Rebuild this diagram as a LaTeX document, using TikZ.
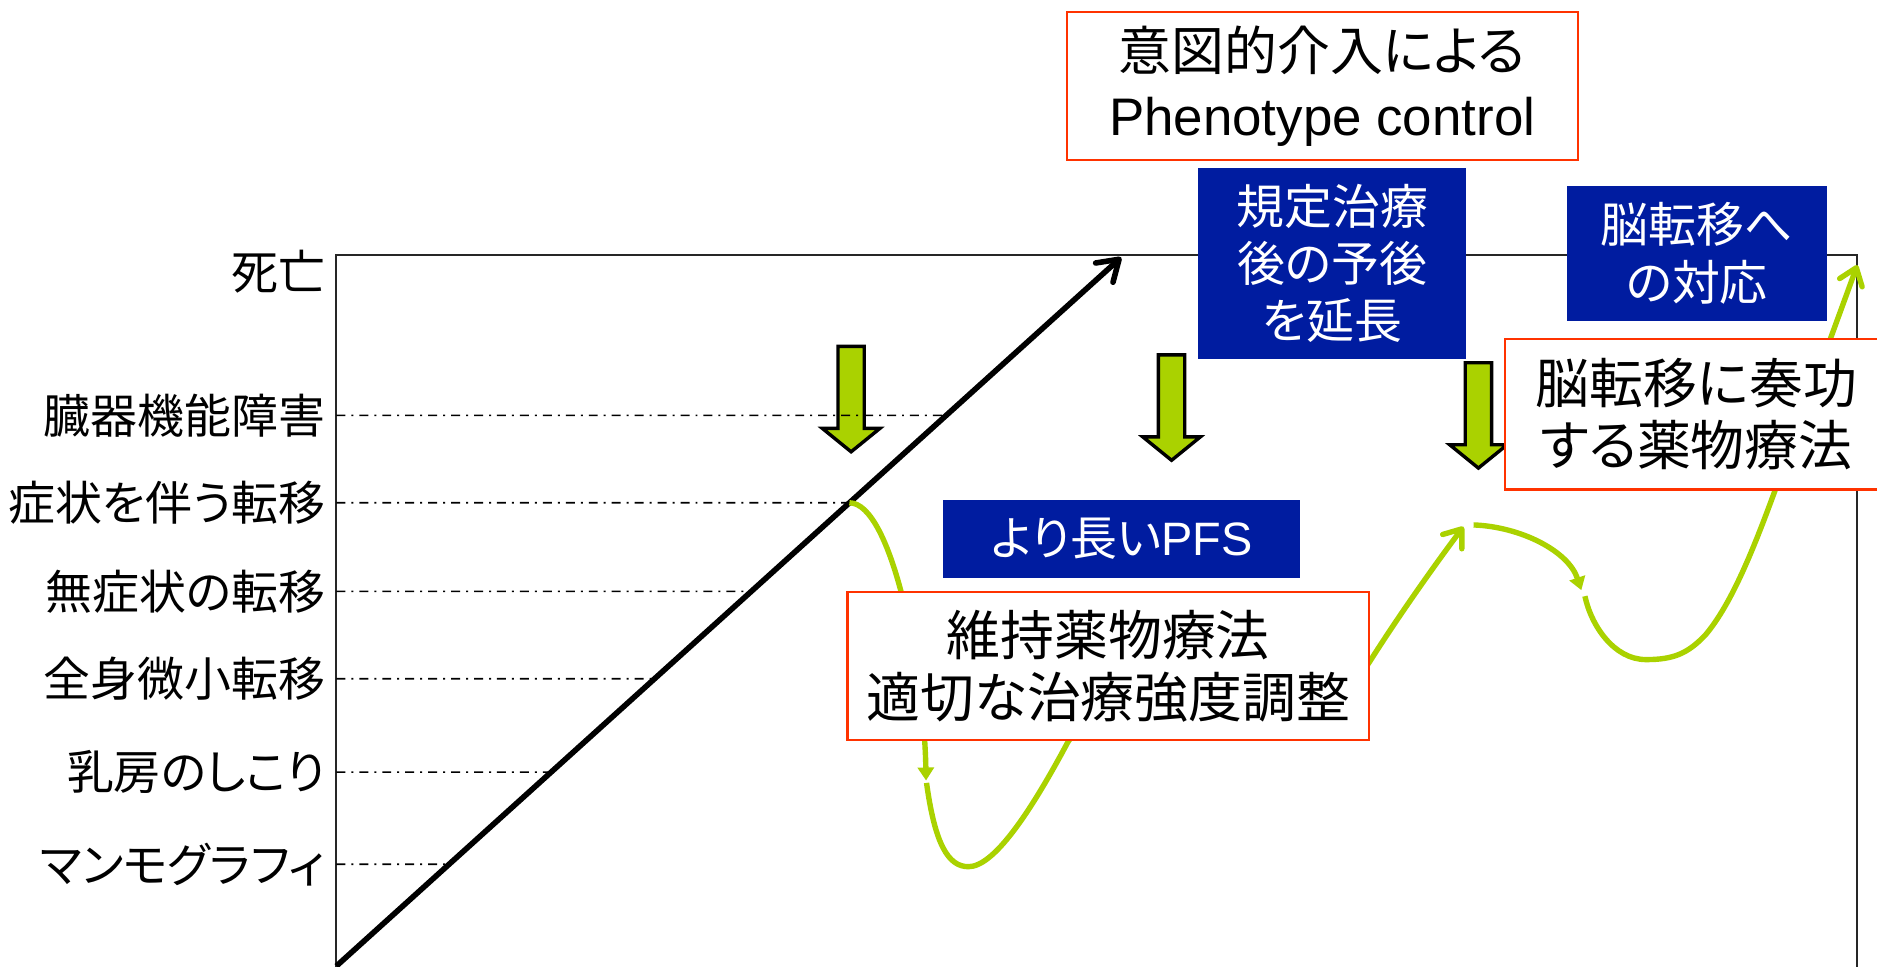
\documentclass[tikz,border=0pt]{standalone}
\usepackage{fontspec}
\newfontfamily\jp[RawFeature=+palt]{Noto Sans CJK JP}
\newfontfamily\lib{Liberation Sans}
\usetikzlibrary{arrows.meta,calc}
\definecolor{boxblue}{RGB}{0,28,160}
\definecolor{boxred}{RGB}{255,51,0}
\definecolor{lgreen}{RGB}{170,210,0}
\tikzset{
  frameline/.style={line width=1pt, draw=black!85},
  guide/.style={line width=0.85pt, dash pattern=on 4.5pt off 3pt on 1pt off 3pt},
  lbl/.style={anchor=east, inner sep=0pt, font=\jp\fontsize{23.5}{28}\selectfont},
  redbox/.style={draw=boxred, line width=1.1pt, fill=white, align=center, inner sep=0pt, text=black},
  bluebox/.style={fill=boxblue, align=center, inner sep=0pt, text=white},
  gcurve/.style={draw=lgreen, line width=2.7pt},
  opentip/.style={-{Straight Barb[length=8pt,width=12pt,round]}},
  filltip/.style={-{Triangle[length=6.5pt,width=8pt]}},
  diag/.style={line width=2.8pt, -{Straight Barb[length=10pt,width=13pt,round]}},
  blockarrow/.style={fill=lgreen, draw=black, line width=1.7pt, line join=miter},
  blockdown/.pic={\draw[blockarrow] (-11,0) -- (-11,68.5) -- (-24,68.5) -- (0,88) -- (24,68.5) -- (11,68.5) -- (11,0) -- cycle;}
}
\begin{document}
\begin{tikzpicture}[x=0.6pt,y=-0.6pt]
\useasboundingbox (0,0) rectangle (1568,807);
\clip (0,0) rectangle (1568,807);
\fill[white] (0,0) rectangle (1568,807);

% frame
\coordinate (ax0) at (281,812);
\coordinate (axtop) at (281,213);
\coordinate (axtr) at (1551,213);
\coordinate (axbr) at (1551,812);
\draw[frameline] (ax0) -- (axtop) -- (axtr) -- (axbr);

% green block arrows
\pic at (711,289.4) {blockdown};
\pic at (978.7,296.5) {blockdown};
\pic at (1235,303) {blockdown};

% diagonal
\coordinate (d0) at (281,807);
\coordinate (d1) at (936.6,215);

% labels
\node[lbl] (l0) at (272,227) {死亡};
\node[lbl] (l1) at (272,347) {臓器機能障害};
\node[lbl] (l2) at (272,420) {症状を伴う転移};
\node[lbl] (l3) at (272,494) {無症状の転移};
\node[lbl] (l4) at (272,567) {全身微小転移};
\node[lbl] (l5) at (272,645) {乳房のしこり};
\node[lbl] (l6) at (272,722) {マンモグラフィ};

% guide lines
\foreach \yy in {347,420,494,567,645,722}{
  \draw[guide] (281,\yy) -- ($(d0)!{(807-\yy)/592}!(d1)$);
}
\draw[diag] (d0) -- (d1);

% green curves
\coordinate (c1s) at ($(d0)!{387/592}!(d1)$);
\coordinate (c1e) at (773.6,652);
\coordinate (c2s) at (774,654);
\coordinate (c2e) at (1222.5,440);
\coordinate (c3s) at (1231,438.5);
\coordinate (c3e) at (1321,493);
\coordinate (c4s) at (1324,498);
\coordinate (c4e) at (1551.5,221.5);
\draw[gcurve, filltip] (c1s) .. controls (745,420) and (772,560) .. (c1e);
\draw[gcurve, opentip] (c2s) .. controls (781,705) and (792,724) .. (809,724)
   .. controls (830,724) and (860,680) .. (892,620)
   .. controls (930,560) and (1110,610) .. (1144,553)
   .. controls (1170,512) and (1200,470) .. (c2e);
\draw[gcurve, filltip] (c3s) .. controls (1270,440) and (1310,460) .. (c3e);
\draw[gcurve, opentip] (c4s) .. controls (1329,522) and (1348,551) .. (1375,551)
   .. controls (1398,551) and (1410,546) .. (1425,530)
   .. controls (1450,500) and (1470,445) .. (1490,390) -- (c4e);

% boxes
\node[redbox, minimum width=256.2pt, minimum height=74.1pt, font=\jp\fontsize{26.5}{32.4}\selectfont]
  (intent) at (1104.5,71.75) {意図的介入による\\{\lib Phenotype control}};
\node[bluebox, minimum width=134.4pt, minimum height=96pt, font=\jp\fontsize{24}{28.5}\selectfont]
  (prog) at (1113,220) {規定治療\\後の予後\\を延長};
\node[bluebox, minimum width=130.5pt, minimum height=67.6pt, font=\jp\fontsize{24}{28.8}\selectfont]
  (brainb) at (1417.5,211.5) {脳転移へ\\の対応};
\node[redbox, minimum width=192pt, minimum height=75.4pt, font=\jp\fontsize{27}{31.2}\selectfont]
  (brainr) at (1417,346) {脳転移に奏功\\する薬物療法};
\node[bluebox, minimum width=178.8pt, minimum height=38.8pt, font=\jp\fontsize{23.5}{28}\selectfont]
  (pfs) at (937,450.3) {より長い{\lib PFS}};
\node[redbox, minimum width=261.4pt, minimum height=74pt, font=\jp\fontsize{27}{31.2}\selectfont]
  (maint) at (925.8,556.3) {維持薬物療法\\適切な治療強度調整};
\end{tikzpicture}
\end{document}
